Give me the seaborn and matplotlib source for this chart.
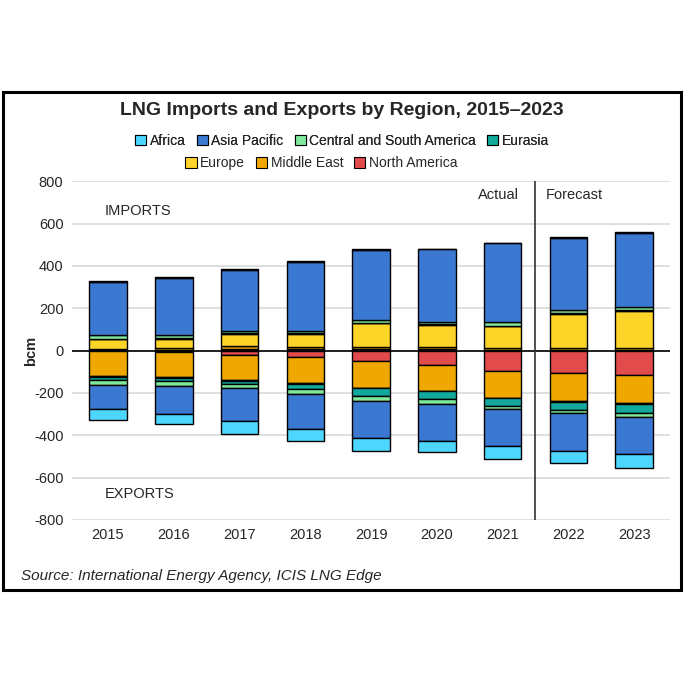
import matplotlib
matplotlib.use("Agg")
import matplotlib.pyplot as plt
import seaborn as sns
import numpy as np
from matplotlib.patches import Rectangle

sns.set_theme(style="white")
plt.rcParams['font.family'] = ['Liberation Sans', 'DejaVu Sans']
plt.rcParams['axes.unicode_minus'] = False

years = ["2015", "2016", "2017", "2018", "2019", "2020", "2021", "2022", "2023"]
regions = ["Africa", "Asia Pacific", "Central and South America", "Eurasia",
           "Europe", "Middle East", "North America"]
colors = {"Africa": "#4DD6FF", "Asia Pacific": "#3B78D2",
          "Central and South America": "#7FE89C", "Eurasia": "#12A89C",
          "Europe": "#FDD428", "Middle East": "#F0A800", "North America": "#E24B4B"}

# Imports (bcm)
imp_north_america = [2, 3, 5, 5, 5, 5, 4, 4, 4]
imp_middle_east = [5, 8, 15, 10, 12, 10, 8, 8, 8]
imp_europe = [47, 45, 59, 64, 112, 106, 102, 161, 175]
imp_eurasia = [1, 2, 2, 2, 3, 3, 3, 3, 3]
imp_csa = [18, 16, 12, 13, 13, 13, 20, 16, 14]
imp_asia_pacific = [250, 269, 286, 325, 331, 342, 369, 342, 353]
imp_africa = [5, 5, 8, 4, 2, 2, 2, 2, 2]

# Exports (bcm, shown negative)
exp_north_america = [2, 5, 20, 30, 50, 66, 97, 108, 116]
exp_middle_east = [120, 122, 119, 122, 125, 123, 126, 131, 133]
exp_europe = [5, 5, 4, 4, 3, 3, 3, 4, 4]
exp_eurasia = [13, 13, 16, 27, 37, 37, 34, 36, 40]
exp_csa = [22, 22, 20, 20, 22, 22, 16, 16, 19]
exp_asia_pacific = [115, 134, 156, 169, 178, 175, 177, 180, 175]
exp_africa = [51, 47, 58, 55, 61, 53, 61, 56, 67]

imports = [("North America", imp_north_america), ("Middle East", imp_middle_east),
           ("Europe", imp_europe), ("Eurasia", imp_eurasia),
           ("Central and South America", imp_csa), ("Asia Pacific", imp_asia_pacific),
           ("Africa", imp_africa)]
exports = [("North America", exp_north_america), ("Middle East", exp_middle_east),
           ("Europe", exp_europe), ("Eurasia", exp_eurasia),
           ("Central and South America", exp_csa), ("Asia Pacific", exp_asia_pacific),
           ("Africa", exp_africa)]

fig = plt.figure(figsize=(6.84, 6.84), dpi=100)
fig.patches.append(Rectangle((0.004, 0.137), 0.992, 0.728, transform=fig.transFigure,
                             fill=False, edgecolor="black", linewidth=2.2))
ax = fig.add_axes([0.105, 0.24, 0.875, 0.495])
x = np.arange(len(years))
w = 0.57
bottom = np.zeros(len(years))
for name, vals in imports:
    v = np.array(vals, float)
    ax.bar(x, v, w, bottom=bottom, color=colors[name], edgecolor="black", linewidth=1, zorder=3)
    bottom += v
bottom = np.zeros(len(years))
for name, vals in exports:
    v = -np.array(vals, float)
    ax.bar(x, v, w, bottom=bottom, color=colors[name], edgecolor="black", linewidth=1, zorder=3)
    bottom += v

ax.set_ylim(-800, 800)
ax.set_xlim(-0.55, len(years) - 0.45)
ax.set_yticks(range(-800, 801, 200))
ax.set_xticks(x)
ax.set_xticklabels(years)
ax.tick_params(axis="both", labelsize=10.5, length=0, pad=6)
ax.yaxis.grid(True, color="#d9d9d9", linewidth=1.2, zorder=0)
ax.axhline(0, color="black", linewidth=1.2, zorder=4)
ax.axvline(6.5, color="#333333", linewidth=1.2, zorder=4)
for s in ax.spines.values():
    s.set_visible(False)
fig.text(0.045, 0.487, "bcm", rotation=90, fontsize=10.5, fontweight="bold",
         ha="center", va="center")
ax.text(-0.05, 660, "IMPORTS", fontsize=10.5, va="center")
ax.text(-0.05, -680, "EXPORTS", fontsize=10.5, va="center")
ax.text(6.25, 735, "Actual", fontsize=10.5, ha="right", va="center")
ax.text(6.65, 735, "Forecast", fontsize=10.5, ha="left", va="center")

fig.text(0.5, 0.838, "LNG Imports and Exports by Region, 2015\u20132023",
         ha="center", va="center", fontsize=14, fontweight="bold")
handles = [Rectangle((0, 0), 1, 1, facecolor=colors[r], edgecolor="black", linewidth=0.8)
           for r in regions]
leg1 = fig.legend(handles[:4], regions[:4], loc="center", bbox_to_anchor=(0.5, 0.794), ncol=4,
                  frameon=False, fontsize=10, handlelength=0.8, handleheight=0.8,
                  handletextpad=0.25, columnspacing=0.8)
fig.legend(handles[4:], regions[4:], loc="center", bbox_to_anchor=(0.47, 0.761), ncol=3,
           frameon=False, fontsize=10, handlelength=0.8, handleheight=0.8,
           handletextpad=0.25, columnspacing=0.8)
fig.add_artist(leg1)
fig.text(0.03, 0.158, "Source: International Energy Agency, ICIS LNG Edge",
         fontsize=11, style="italic", va="center")
fig.savefig("out.png", dpi=100, facecolor="white")
